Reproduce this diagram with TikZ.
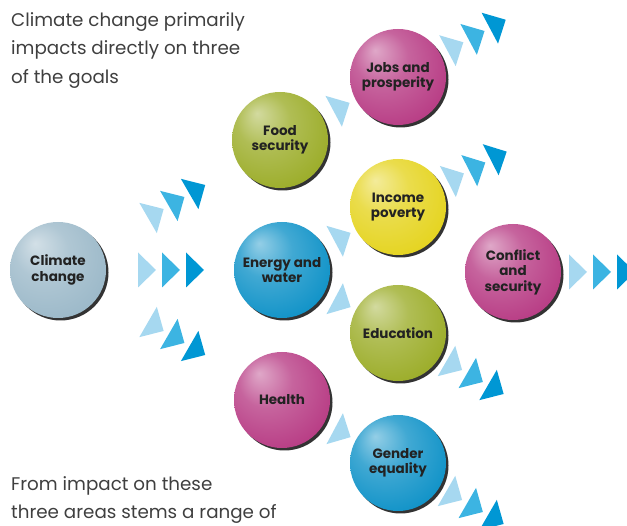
\documentclass[tikz,border=0pt]{standalone}
\usepackage{fontspec}
\setmainfont{Poppins}
\usetikzlibrary{calc, shadows}

\definecolor{goalgrey}{HTML}{9CB9C9}
\definecolor{goalgreen}{HTML}{9CAD2A}
\definecolor{goalpink}{HTML}{B83D85}
\definecolor{goalyellow}{HTML}{E5D420}
\definecolor{goalblue}{HTML}{1193C8}
\definecolor{tlight}{HTML}{A6D8F0}
\definecolor{tmid}{HTML}{3CB4E2}
\definecolor{tdark}{HTML}{0097D4}
\definecolor{ink}{HTML}{222222}
\definecolor{prosecol}{HTML}{3F3F3F}

% sphere look: light spot top left, darker rim
\colorlet{ballcol}{gray}
\pgfdeclareradialshading[ballcol]{softball}{\pgfpoint{-12bp}{14bp}}{%
  color(0bp)=(ballcol!45!white); color(14bp)=(ballcol!80!white);
  color(32bp)=(ballcol); color(50bp)=(ballcol!68!black)}

\begin{document}
\begin{tikzpicture}
  [x=1pt, y=1pt,
  ballc/.code={\colorlet{ballcol}{#1}},
  goal/.style={circle, minimum size=96pt, inner sep=0pt, align=center,
    font=\bfseries\fontsize{13.5}{15.5}\selectfont, text=ink,
    shading=softball, ballc=#1,
    drop shadow={shadow xshift=2.5pt, shadow yshift=-2.5pt, opacity=.8, fill=black}},
  prose/.style={anchor=north west, inner sep=0pt, align=left, text=prosecol,
    font=\fontsize{18.3}{28.5}\selectfont},
  chev/.pic={\fill[pic actions] (-6,-17.5) -- (12,0) -- (-6,17.5) -- cycle;}]
  \useasboundingbox (0,0) rectangle (627,526);
  \clip (0,0) rectangle (627,526);
  % text
  \node[prose] (intro) at (11,514) {Climate change primarily\\impacts directly on three\\of the goals};
  \node[prose] (outro) at (11,50) {From impact on these\\three areas stems a range of};
  % goals
  \node[goal=goalgrey]   (climate)   at (58,256)  {Climate\\change};
  \node[goal=goalgreen]  (food)      at (280,386) {Food\\security};
  \node[goal=goalpink]   (jobs)      at (398,449) {Jobs and\\prosperity};
  \node[goal=goalyellow] (income)    at (398,319) {Income\\poverty};
  \node[goal=goalblue]   (energy)    at (282,256) {Energy and\\water};
  \node[goal=goalpink]   (conflict)  at (513,254) {Conflict\\and\\security};
  \node[goal=goalgreen]  (education) at (398,193) {Education};
  \node[goal=goalpink]   (health)    at (282,126) {Health};
  \node[goal=goalblue]   (gender)    at (398,63)  {Gender\\equality};
  % single arrows between goals
  \foreach \from/\to/\ang in {food/jobs/28, energy/income/28, energy/education/-28, health/gender/-28}
    \pic[rotate=\ang, fill=tlight] at ($(\from)!.5!(\to)$) {chev};
  % runs of three arrows
  \foreach \src/\ang/\dist in {climate/30/110, climate/0/86, climate/-30/110,
      jobs/28/62, income/27/62, education/-30/62, gender/-30/62, conflict/0/62}
    \foreach \col [count=\n from 0] in {tlight, tmid, tdark}
      \pic[rotate=\ang, fill=\col] at ($(\src)+(\ang:\dist+24*\n)$) {chev};
\end{tikzpicture}
\end{document}
